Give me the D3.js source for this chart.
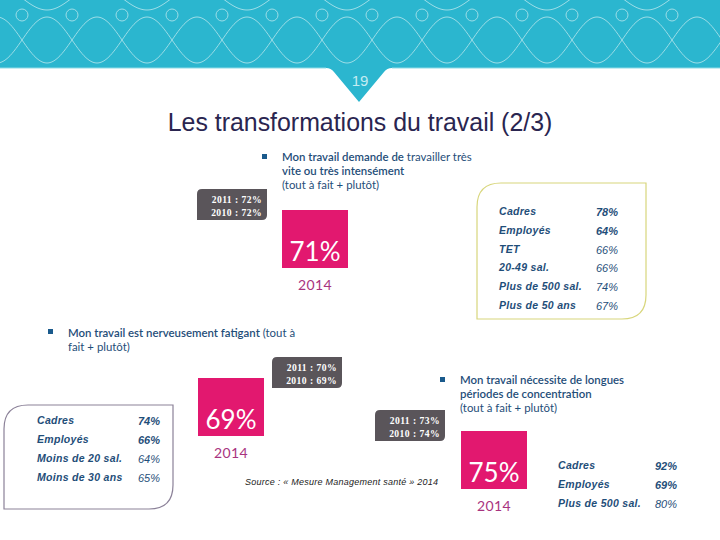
<!DOCTYPE html>
<html>
<head>
<meta charset="utf-8">
<script src="https://d3js.org/d3.v7.min.js"></script>
<style>
  html, body { margin: 0; padding: 0; background: #fff; }
  svg { display: block; }
</style>
</head>
<body>
<div id="chart"></div>
<script>
const pageNumber = "19";
const title = "Les transformations du travail (2/3)";
const source = "Source : « Mesure Management santé » 2014";
const year = "2014";

const rateLabels = ["2011", "2010"];

// panel 1: vite / intense
const speedHeading = [
  [["Mon travail demande de", 600], [" travailler très", 400]],
  [["vite ou très intensément", 600]],
  [["(tout à fait + plutôt)", 400]]
];
const speedRate = 71;
const speedHistory = [72, 72];
const speedGroups = ["Cadres", "Employés", "TET", "20-49 sal.", "Plus de 500 sal.", "Plus de 50 ans"];
const speedValues = [78, 64, 66, 66, 74, 67];

// panel 2: fatigue
const fatigueHeading = [
  [["Mon travail est nerveusement fatigant", 600], [" (tout à", 400]],
  [["fait + plutôt)", 400]]
];
const fatigueRate = 69;
const fatigueHistory = [70, 69];
const fatigueGroups = ["Cadres", "Employés", "Moins de 20 sal.", "Moins de 30 ans"];
const fatigueValues = [74, 66, 64, 65];

// panel 3: concentration
const focusHeading = [
  [["Mon travail nécessite de longues", 600]],
  [["périodes de concentration", 600]],
  [["(tout à fait + plutôt)", 400]]
];
const focusRate = 75;
const focusHistory = [73, 74];
const focusGroups = ["Cadres", "Employés", "Plus de 500 sal."];
const focusValues = [92, 69, 80];

const width = 720, height = 540;
const teal = "#2bb6cf", blue = "#1f4e79", pink = "#e2186f", plum = "#a8337f", slate = "#5a555a";
const bodyFont = "Lato, 'Open Sans', sans-serif";
const sansFont = "'Liberation Sans', Arial, sans-serif";

const svg = d3.select("#chart").append("svg")
  .attr("width", width)
  .attr("height", height);

drawBanner();

svg.append("text")
  .attr("x", 360).attr("y", 131)
  .attr("text-anchor", "middle")
  .attr("font-family", sansFont)
  .attr("font-size", 24.9)
  .attr("fill", "#2a2550")
  .text(title);

svg.append("text")
  .attr("x", 245).attr("y", 485)
  .attr("font-family", sansFont)
  .attr("font-style", "italic")
  .attr("font-size", 9)
  .attr("letter-spacing", 0.25)
  .attr("fill", "#222")
  .text(source);

drawPanel({
  heading: speedHeading, rate: speedRate, history: speedHistory,
  groups: speedGroups, values: speedValues, boldRows: 2,
  bullet: [262, 154], textX: 282, textY: 161,
  badge: [197, 189], tile: [282, 210],
  frame: { x: 477, y: 183, w: 169, h: 136, color: "#d8d67c" },
  rowsX: [499, 596], rowsY: [215, 309]
});

drawPanel({
  heading: fatigueHeading, rate: fatigueRate, history: fatigueHistory,
  groups: fatigueGroups, values: fatigueValues, boldRows: 2,
  bullet: [48, 329], textX: 68, textY: 337,
  badge: [272, 357], tile: [198, 378],
  frame: { x: 4, y: 405, w: 169, h: 104, color: "#8b8198" },
  rowsX: [37, 138], rowsY: [424, 481]
});

drawPanel({
  heading: focusHeading, rate: focusRate, history: focusHistory,
  groups: focusGroups, values: focusValues, boldRows: 2,
  bullet: [440, 377], textX: 460, textY: 384,
  badge: [375, 410], tile: [461, 431],
  rowsX: [558, 655], rowsY: [469, 507]
});

function drawBanner() {
  const bar = 68;
  svg.append("path")
    .attr("d", `M0,0H${width}V${bar}H392Q387,${bar} 384,72L359,102L334,72Q331,${bar} 326,${bar}H0Z`)
    .attr("fill", teal);
  svg.append("line")
    .attr("x1", 0).attr("x2", 326).attr("y1", bar).attr("y2", bar)
    .attr("stroke", "#8fdbe6").attr("stroke-width", 1);
  svg.append("line")
    .attr("x1", 392).attr("x2", width).attr("y1", bar).attr("y2", bar)
    .attr("stroke", "#8fdbe6").attr("stroke-width", 1);

  const xs = d3.range(-10, width + 10, 2);
  const line = d3.line().curve(d3.curveLinear);
  const wave = (mid, amp) => line(xs.map(x =>
    [x, mid + amp * Math.cos((x - 47) * Math.PI / 50)]));

  const lines = svg.append("g")
    .attr("fill", "none")
    .attr("stroke", "#9cdde7")
    .attr("stroke-width", 1);
  lines.append("path").attr("d", wave(40, -23));
  lines.append("path").attr("d", wave(40, 23));
  lines.append("path").attr("d", wave(-2, 12));

  lines.selectAll("circle")
    .data(d3.range(22, width, 50))
    .join("circle")
    .attr("cx", d => d).attr("cy", 15).attr("r", 6);

  svg.append("text")
    .attr("x", 360).attr("y", 86)
    .attr("text-anchor", "middle")
    .attr("font-family", sansFont)
    .attr("font-size", 15)
    .attr("fill", "#c4ecf2")
    .text(pageNumber);
}

// rounded only on the top-left and bottom-right corners
function cutBox(x, y, w, h, r) {
  return `M${x + r},${y}H${x + w}V${y + h - r}Q${x + w},${y + h} ${x + w - r},${y + h}` +
    `H${x}V${y + r}Q${x},${y} ${x + r},${y}Z`;
}

function drawPanel(p) {
  const g = svg.append("g");

  g.append("rect")
    .attr("x", p.bullet[0]).attr("y", p.bullet[1])
    .attr("width", 5).attr("height", 5)
    .attr("fill", "#1a5a8c");

  const heading = g.append("text")
    .attr("font-family", bodyFont)
    .attr("font-size", 11.4)
    .attr("fill", blue);
  p.heading.forEach((parts, i) => {
    parts.forEach(([txt, weight], j) => {
      const span = heading.append("tspan")
        .attr("font-weight", weight)
        .attr("xml:space", "preserve")
        .text(txt);
      if (j === 0) span.attr("x", p.textX).attr("y", p.textY + i * 14);
    });
  });

  // previous years badge
  g.append("path")
    .attr("d", cutBox(p.badge[0], p.badge[1], 70, 31, 5))
    .attr("fill", slate);
  g.selectAll(".rate")
    .data(p.history)
    .join("text")
    .attr("x", p.badge[0] + 65)
    .attr("y", (d, i) => p.badge[1] + 14 + i * 13)
    .attr("text-anchor", "end")
    .attr("font-family", "'Liberation Serif', serif")
    .attr("font-size", 9.6)
    .attr("font-weight", 700)
    .attr("letter-spacing", 0.45)
    .attr("fill", "#fff")
    .text((d, i) => `${rateLabels[i]} : ${d}%`);

  // main 2014 figure
  g.append("rect")
    .attr("x", p.tile[0]).attr("y", p.tile[1])
    .attr("width", 66).attr("height", 58)
    .attr("fill", pink);
  g.append("text")
    .attr("x", p.tile[0] + 33).attr("y", p.tile[1] + 51)
    .attr("text-anchor", "middle")
    .attr("font-family", bodyFont)
    .attr("font-size", 26)
    .attr("fill", "#fff")
    .text(`${p.rate}%`);
  g.append("text")
    .attr("x", p.tile[0] + 33).attr("y", p.tile[1] + 80)
    .attr("text-anchor", "middle")
    .attr("font-family", bodyFont)
    .attr("font-size", 14)
    .attr("letter-spacing", 0.4)
    .attr("fill", plum)
    .text(year);

  if (p.frame) {
    g.append("path")
      .attr("d", cutBox(p.frame.x, p.frame.y, p.frame.w, p.frame.h, 24))
      .attr("fill", "none")
      .attr("stroke", p.frame.color)
      .attr("stroke-width", 1.2);
  }

  // breakdown table
  const y = d3.scalePoint().domain(p.groups).range(p.rowsY);
  const rows = g.selectAll(".row")
    .data(p.groups)
    .join("g")
    .attr("transform", d => `translate(0,${y(d)})`);
  rows.append("text")
    .attr("x", p.rowsX[0])
    .attr("font-family", sansFont)
    .attr("font-size", 10.5)
    .attr("font-style", "italic")
    .attr("font-weight", 700)
    .attr("letter-spacing", 0.3)
    .attr("fill", blue)
    .text(d => d);
  rows.append("text")
    .attr("x", p.rowsX[1])
    .attr("y", 1)
    .attr("font-family", sansFont)
    .attr("font-size", 11)
    .attr("font-style", "italic")
    .attr("font-weight", (d, i) => i < p.boldRows ? 700 : 400)
    .attr("fill", blue)
    .text((d, i) => `${p.values[i]}%`);
}
</script>
</body>
</html>
